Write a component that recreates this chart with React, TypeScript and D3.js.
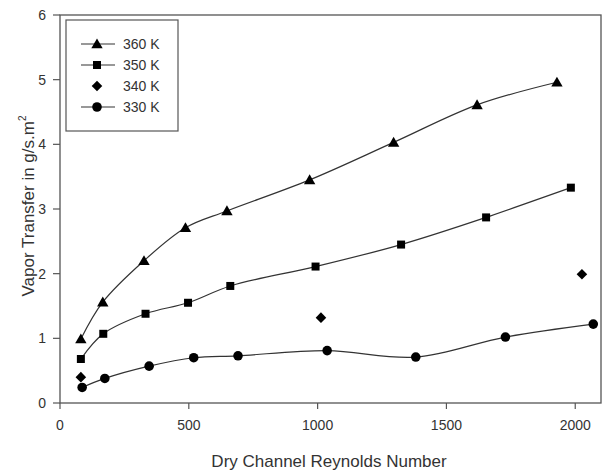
import * as d3 from "d3";

// Reynolds number / vapor transfer readings (g/s.m^2)
const re360 = [81, 166, 326, 487, 648, 969, 1295, 1619, 1929];
const vt360 = [0.99, 1.56, 2.2, 2.71, 2.97, 3.45, 4.03, 4.61, 4.96];

const re350 = [81, 168, 332, 497, 661, 992, 1324, 1654, 1983];
const vt350 = [0.68, 1.07, 1.38, 1.55, 1.81, 2.11, 2.45, 2.87, 3.33];

const re340 = [81, 1013, 2026];
const vt340 = [0.4, 1.32, 1.99];

const re330 = [86, 174, 346, 519, 691, 1037, 1381, 1729, 2070];
const vt330 = [0.24, 0.38, 0.57, 0.7, 0.73, 0.81, 0.71, 1.02, 1.22];

const xTicks = [0, 500, 1000, 1500, 2000];
const yTicks = [0, 1, 2, 3, 4, 5, 6];

const seriesNames = ["360 K", "350 K", "340 K", "330 K"];
const seriesMarkers = ["triangle", "square", "diamond", "circle"];

const W = 605;
const H = 473;
const margin = { left: 60, right: 4, top: 15, bottom: 70 };

const x = d3.scaleLinear().domain([0, 2100]).range([margin.left, W - margin.right]);
const y = d3.scaleLinear().domain([0, 6]).range([H - margin.bottom, margin.top]);

const symbolFor = (m: string) => {
  if (m === "triangle") return d3.symbol(d3.symbolTriangle, 56)();
  if (m === "square") return d3.symbol(d3.symbolSquare, 64)();
  if (m === "diamond") return d3.symbol(d3.symbolSquare, 56)();
  return d3.symbol(d3.symbolCircle, 72)();
};

const extraTransform = (m: string) =>
  m === "triangle" ? " translate(0,1)" : m === "diamond" ? " rotate(45)" : "";

const line = d3
  .line<[number, number]>()
  .x((d) => x(d[0]))
  .y((d) => y(d[1]))
  .curve(d3.curveCatmullRom.alpha(0.5));

const zip = (a: number[], b: number[]) => a.map((v, i) => [v, b[i]] as [number, number]);

const series = [
  { name: seriesNames[0], marker: seriesMarkers[0], pts: zip(re360, vt360), lined: true },
  { name: seriesNames[1], marker: seriesMarkers[1], pts: zip(re350, vt350), lined: true },
  { name: seriesNames[2], marker: seriesMarkers[2], pts: zip(re340, vt340), lined: false },
  { name: seriesNames[3], marker: seriesMarkers[3], pts: zip(re330, vt330), lined: true },
];

const axisColor = "#555";
const font = "Liberation Sans, Arial, sans-serif";

export default function App() {
  const x0 = margin.left;
  const x1 = W - margin.right;
  const y0 = H - margin.bottom;
  const y1 = margin.top;

  return (
    <svg
      width={W}
      height={H}
      style={{ position: "absolute", left: 0, top: 0, background: "#fff" }}
      fontFamily={font}
    >
      {/* frame */}
      <rect x={x0} y={y1} width={x1 - x0} height={y0 - y1} fill="none" stroke={axisColor} strokeWidth={1.3} />

      {/* y ticks */}
      {yTicks.map((t) => (
        <g key={"y" + t}>
          <line x1={x0 - 7} x2={x0} y1={y(t)} y2={y(t)} stroke={axisColor} strokeWidth={1.2} />
          <text x={x0 - 14} y={y(t)} dy="0.35em" textAnchor="end" fontSize={14} fill="#333">
            {t}
          </text>
        </g>
      ))}

      {/* x ticks */}
      {xTicks.map((t) => (
        <g key={"x" + t}>
          <line x1={x(t)} x2={x(t)} y1={y0} y2={y0 + 6} stroke={axisColor} strokeWidth={1.2} />
          <text x={x(t)} y={y0 + 27} textAnchor="middle" fontSize={14} fill="#333">
            {t}
          </text>
        </g>
      ))}

      {/* lines */}
      {series
        .filter((s) => s.lined)
        .map((s) => (
          <path key={"l" + s.name} d={line(s.pts) || ""} fill="none" stroke="#333" strokeWidth={1.2} />
        ))}

      {/* markers */}
      {series.map((s) =>
        s.pts.map((p, i) => (
          <path
            key={s.name + i}
            d={symbolFor(s.marker) || ""}
            transform={`translate(${x(p[0])},${y(p[1])})${extraTransform(s.marker)}`}
            fill="#000"
          />
        ))
      )}

      {/* legend */}
      <rect x={66} y={20} width={112} height={111} fill="#fff" stroke={axisColor} strokeWidth={1.2} />
      {series.map((s, i) => {
        const ly = 44 + i * 21;
        return (
          <g key={"lg" + s.name}>
            {s.lined && <line x1={81} x2={115} y1={ly} y2={ly} stroke="#333" strokeWidth={1.2} />}
            <path
              d={symbolFor(s.marker) || ""}
              transform={`translate(97,${ly})${extraTransform(s.marker)}`}
              fill="#000"
            />
            <text x={123} y={ly} dy="0.35em" fontSize={14} fill="#333">
              {s.name}
            </text>
          </g>
        );
      })}

      {/* axis titles */}
      <text x={329} y={467} textAnchor="middle" fontSize={17} fill="#333">
        Dry Channel Reynolds Number
      </text>
      <text transform="translate(34,206) rotate(-90)" textAnchor="middle" fontSize={17} fill="#333">
        Vapor Transfer in g/s.m
        <tspan dy="-8" fontSize={10}>
          2
        </tspan>
      </text>
    </svg>
  );
}
